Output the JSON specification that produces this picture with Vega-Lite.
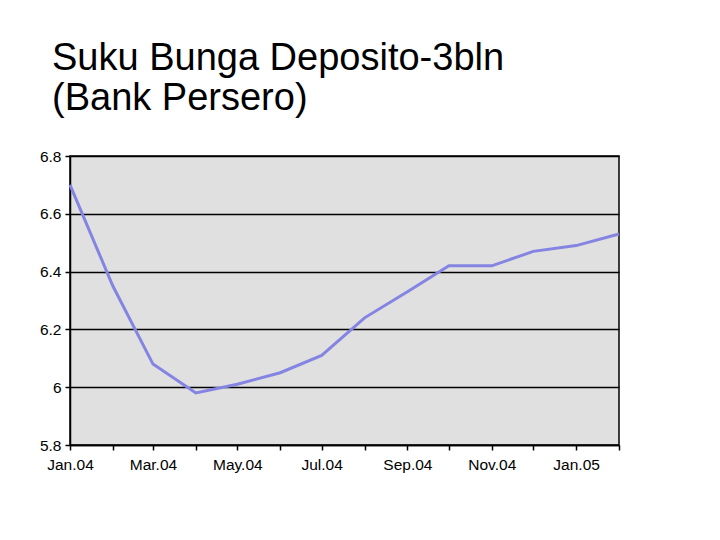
{
  "$schema": "https://vega.github.io/schema/vega-lite/v6.json",
  "width": 549,
  "height": 289,
  "autosize": {"type": "none"},
  "padding": {"left": 70, "top": 156, "right": 101, "bottom": 95},
  "background": "white",
  "title": {
    "text": ["Suku Bunga Deposito-3bln", "(Bank Persero)"],
    "anchor": "start",
    "frame": "group",
    "font": "Liberation Sans",
    "fontSize": 38,
    "fontWeight": "normal",
    "lineHeight": 40,
    "color": "black",
    "dx": -18,
    "offset": 31
  },
  "data": {
    "values": [
      {"date": "2004-01-01", "rate": 6.70},
      {"date": "2004-02-01", "rate": 6.35},
      {"date": "2004-03-01", "rate": 6.08},
      {"date": "2004-04-01", "rate": 5.98},
      {"date": "2004-05-01", "rate": 6.01},
      {"date": "2004-06-01", "rate": 6.05},
      {"date": "2004-07-01", "rate": 6.11},
      {"date": "2004-08-01", "rate": 6.24},
      {"date": "2004-09-01", "rate": 6.33},
      {"date": "2004-10-01", "rate": 6.42},
      {"date": "2004-11-01", "rate": 6.42},
      {"date": "2004-12-01", "rate": 6.47},
      {"date": "2005-01-01", "rate": 6.49},
      {"date": "2005-02-01", "rate": 6.53}
    ]
  },
  "mark": {"type": "line", "color": "#8484e2", "strokeWidth": 3},
  "encoding": {
    "x": {
      "field": "date",
      "type": "temporal",
      "scale": {"type": "utc"},
      "axis": {
        "title": null,
        "grid": false,
        "tickCount": {"interval": "month", "step": 1},
        "labelExpr": "utcmonth(datum.value) % 2 == 0 ? utcFormat(datum.value, '%b.%y') : ''",
        "labelFlush": false,
        "labelOverlap": false,
        "domainColor": "black",
        "domainWidth": 1.5,
        "tickColor": "black",
        "tickWidth": 1.5,
        "tickSize": 5,
        "labelPadding": 7,
        "labelFont": "Liberation Sans",
        "labelFontSize": 15.5,
        "labelColor": "black"
      }
    },
    "y": {
      "field": "rate",
      "type": "quantitative",
      "scale": {"domain": [5.8, 6.8], "nice": false, "zero": false},
      "axis": {
        "title": null,
        "values": [5.8, 6.0, 6.2, 6.4, 6.6, 6.8],
        "format": ".1~f",
        "grid": true,
        "gridColor": "black",
        "gridWidth": 1.5,
        "gridOpacity": 1,
        "domainColor": "black",
        "domainWidth": 1.5,
        "tickColor": "black",
        "tickWidth": 1.5,
        "tickSize": 5,
        "labelPadding": 4,
        "labelFont": "Liberation Sans",
        "labelFontSize": 15.5,
        "labelColor": "black"
      }
    }
  },
  "config": {
    "view": {"fill": "#e0e0e0", "stroke": "black", "strokeWidth": 1.5}
  }
}
